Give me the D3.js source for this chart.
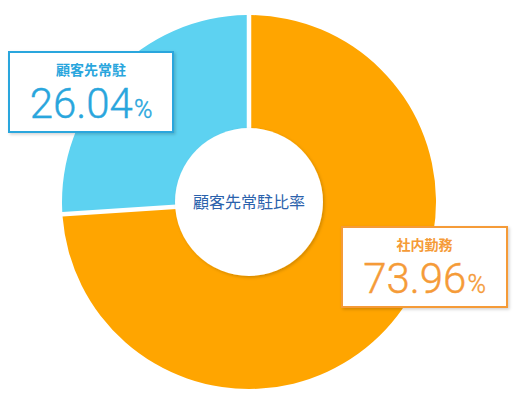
<!DOCTYPE html>
<html>
<head>
<meta charset="utf-8">
<script src="https://cdn.jsdelivr.net/npm/d3@7"></script>
<style>
  body { margin: 0; background: #fff; }
  text { font-family: "Noto Sans CJK JP", "Noto Sans", sans-serif; }
  .num { font-family: Roboto, "Open Sans", sans-serif; font-weight: 300; }
</style>
</head>
<body>
<div id="chart"></div>
<script>
var categories = ['社内勤務', '顧客先常駐'];
var values = [73.96, 26.04];
var sliceColors = ['#ffa500', '#5dd2f1'];
var labelColors = ['#f59b38', '#29a6dd'];
var centerTitle = '顧客先常駐比率';

var width = 516;
var height = 401;
var cx = 249;
var cy = 202;
var outerR = 187;
var innerR = 74;

// label box layout, one per category
var boxes = [
    {x: 342, y: 227, w: 165, h: 80},
    {x: 9, y: 52, w: 164, h: 80}
];

var svg = d3.select('#chart').append('svg')
    .attr('width', width)
    .attr('height', height);

var defs = svg.append('defs');
var shadow = defs.append('filter').attr('id', 'shadow')
    .attr('x', '-20%').attr('y', '-20%').attr('width', '140%').attr('height', '140%');
shadow.append('feDropShadow')
    .attr('dx', 1.5).attr('dy', 1.5).attr('stdDeviation', 1.5)
    .attr('flood-color', '#000').attr('flood-opacity', 0.18);

var pie = d3.pie().sort(null).value(d => d);
var arc = d3.arc()
    .innerRadius(50)
    .outerRadius(outerR)
    .padAngle(0.045)
    .padRadius(100);

var g = svg.append('g').attr('transform', `translate(${cx},${cy})`);

g.selectAll('path')
    .data(pie(values))
    .enter()
    .append('path')
    .attr('d', arc)
    .attr('fill', (d, i) => sliceColors[i]);

g.append('circle')
    .attr('r', innerR)
    .attr('fill', '#fff')
    .attr('filter', 'url(#shadow)');

g.append('text')
    .text(centerTitle)
    .attr('text-anchor', 'middle')
    .attr('y', 6)
    .attr('fill', '#2b62ac')
    .style('font-size', '16px');

var labels = svg.selectAll('.label')
    .data(categories)
    .enter()
    .append('g')
    .attr('class', 'label')
    .attr('transform', (d, i) => `translate(${boxes[i].x},${boxes[i].y})`);

labels.append('rect')
    .attr('width', (d, i) => boxes[i].w)
    .attr('height', (d, i) => boxes[i].h)
    .attr('fill', '#fff')
    .attr('stroke', (d, i) => labelColors[i])
    .attr('stroke-width', 2)
    .attr('filter', 'url(#shadow)');

labels.append('text')
    .text(d => d)
    .attr('x', (d, i) => boxes[i].w / 2)
    .attr('y', 23)
    .attr('text-anchor', 'middle')
    .attr('fill', (d, i) => labelColors[i])
    .style('font-size', '14px')
    .style('font-weight', 'bold');

var num = labels.append('text')
    .attr('class', 'num')
    .attr('x', (d, i) => boxes[i].w / 2)
    .attr('y', 66)
    .attr('text-anchor', 'middle')
    .attr('fill', (d, i) => labelColors[i])
    .attr('stroke', (d, i) => labelColors[i])
    .attr('stroke-width', 0.4);

num.append('tspan')
    .text((d, i) => values[i].toFixed(2))
    .style('font-size', '42px');

num.append('tspan')
    .text('%')
    .attr('dx', 1)
    .style('font-size', '25px');
</script>
</body>
</html>
